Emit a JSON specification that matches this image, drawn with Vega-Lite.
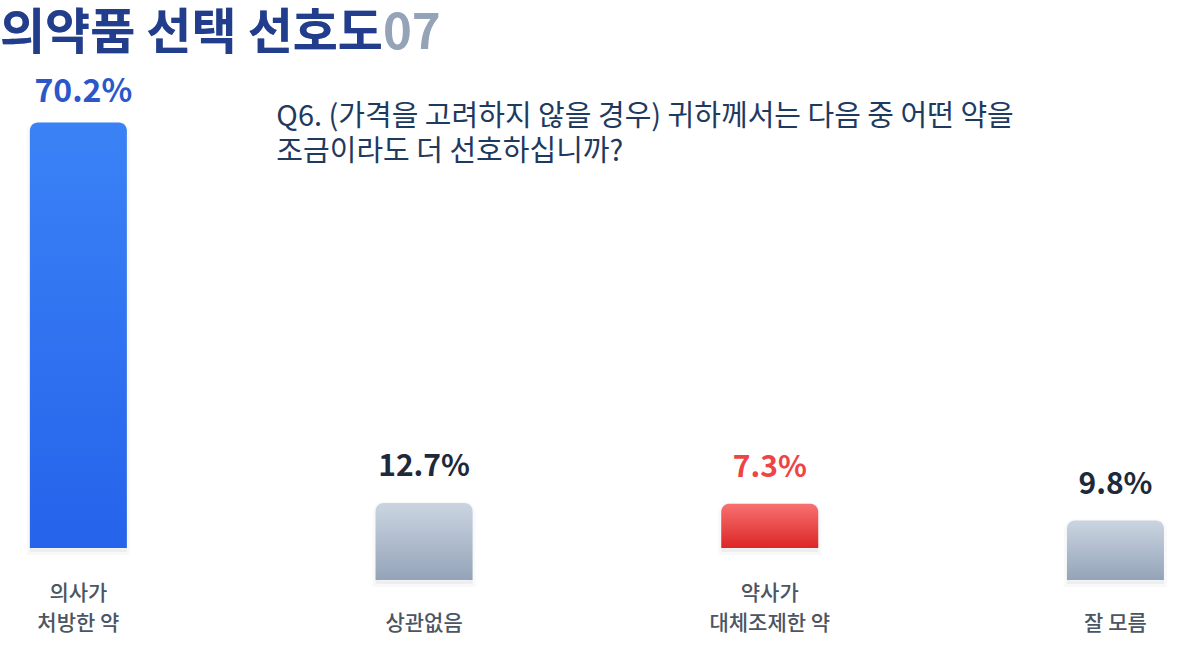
{
  "$schema": "https://vega.github.io/schema/vega-lite/v6.json",
  "width": 1199,
  "height": 510,
  "autosize": {"type": "none"},
  "padding": {"top": 70, "bottom": 78, "left": 0, "right": 0},
  "background": "#ffffff",
  "config": {"view": {"stroke": null}, "font": "Noto Sans CJK KR"},
  "title": {
    "text": "의약품 선택 선호도07",
    "subtitle": "의약품 선택 선호도",
    "anchor": "start",
    "frame": "group",
    "font": "Noto Sans CJK KR",
    "subtitleFont": "Noto Sans CJK KR",
    "fontSize": 49,
    "subtitleFontSize": 49,
    "fontWeight": "bold",
    "subtitleFontWeight": "bold",
    "color": "#94a3b8",
    "subtitleColor": "#213d8c",
    "subtitlePadding": -49,
    "offset": 11
  },
  "data": {
    "values": [
      {"category": "의사가 처방한 약", "label": "의사가\n처방한 약", "share": 0.702, "group": "doctor"},
      {"category": "상관없음", "label": "상관없음", "share": 0.127, "group": "neutral"},
      {"category": "약사가 대체조제한 약", "label": "약사가\n대체조제한 약", "share": 0.073, "group": "pharmacist"},
      {"category": "잘 모름", "label": "잘 모름", "share": 0.098, "group": "neutral"}
    ]
  },
  "encoding": {
    "x": {
      "field": "category",
      "type": "nominal",
      "axis": null,
      "scale": {
        "domain": ["의사가 처방한 약", "상관없음", "약사가 대체조제한 약", "잘 모름"],
        "paddingInner": 0.7194,
        "paddingOuter": 0.0939,
        "align": 0.46
      }
    },
    "y": {
      "field": "share",
      "type": "quantitative",
      "axis": null,
      "stack": null,
      "scale": {"domain": [0, 0.8416]}
    }
  },
  "layer": [
    {
      "transform": [{"filter": "datum.group !== 'neutral'"}],
      "mark": {
        "type": "bar",
        "yOffset": -30,
        "y2Offset": -28,
        "cornerRadiusTopLeft": 8,
        "cornerRadiusTopRight": 8,
        "fill": "#334155",
        "fillOpacity": 0.06,
        "stroke": "#334155",
        "strokeOpacity": 0.03,
        "strokeWidth": 6
      },
      "encoding": {"y2": {"datum": 0}}
    },
    {
      "transform": [{"filter": "datum.group === 'neutral'"}],
      "mark": {
        "type": "bar",
        "yOffset": 2,
        "y2Offset": 4,
        "cornerRadiusTopLeft": 8,
        "cornerRadiusTopRight": 8,
        "fill": "#334155",
        "fillOpacity": 0.06,
        "stroke": "#334155",
        "strokeOpacity": 0.03,
        "strokeWidth": 6
      },
      "encoding": {"y2": {"datum": 0}}
    },
    {
      "transform": [{"filter": "datum.group === 'doctor'"}],
      "mark": {
        "type": "bar",
        "yOffset": -32,
        "y2Offset": -32,
        "cornerRadiusTopLeft": 8,
        "cornerRadiusTopRight": 8,
        "color": {"gradient": "linear", "x1": 0, "y1": 0, "x2": 0, "y2": 1,
          "stops": [{"offset": 0, "color": "#3b82f6"}, {"offset": 1, "color": "#2563eb"}]}
      },
      "encoding": {"y2": {"datum": 0}}
    },
    {
      "transform": [{"filter": "datum.group === 'pharmacist'"}],
      "mark": {
        "type": "bar",
        "yOffset": -32,
        "y2Offset": -32,
        "cornerRadiusTopLeft": 8,
        "cornerRadiusTopRight": 8,
        "color": {"gradient": "linear", "x1": 0, "y1": 0, "x2": 0, "y2": 1,
          "stops": [{"offset": 0, "color": "#f87171"}, {"offset": 1, "color": "#dc2626"}]}
      },
      "encoding": {"y2": {"datum": 0}}
    },
    {
      "transform": [{"filter": "datum.group === 'neutral'"}],
      "mark": {
        "type": "bar",
        "cornerRadiusTopLeft": 8,
        "cornerRadiusTopRight": 8,
        "color": {"gradient": "linear", "x1": 0, "y1": 0, "x2": 0, "y2": 1,
          "stops": [{"offset": 0, "color": "#cbd5e1"}, {"offset": 1, "color": "#94a3b8"}]}
      },
      "encoding": {"y2": {"datum": 0}}
    },
    {
      "transform": [{"filter": "datum.group === 'doctor'"}],
      "mark": {"type": "text", "baseline": "bottom", "dx": 5, "dy": -46, "fontSize": 32, "fontWeight": "bold", "color": "#2b57c9"},
      "encoding": {"text": {"field": "share", "type": "quantitative", "format": ".1%"}}
    },
    {
      "transform": [{"filter": "datum.group === 'pharmacist'"}],
      "mark": {"type": "text", "baseline": "bottom", "dy": -53, "fontSize": 30, "fontWeight": "bold", "color": "#ef4444"},
      "encoding": {"text": {"field": "share", "type": "quantitative", "format": ".1%"}}
    },
    {
      "transform": [{"filter": "datum.group === 'neutral'"}],
      "mark": {"type": "text", "baseline": "bottom", "dy": -21, "fontSize": 30, "fontWeight": "bold", "color": "#1e293b"},
      "encoding": {"text": {"field": "share", "type": "quantitative", "format": ".1%"}}
    },
    {
      "transform": [{"filter": "datum.group !== 'neutral'"}],
      "mark": {"type": "text", "baseline": "bottom", "dy": 24, "fontSize": 21, "fontWeight": 500, "color": "#4b5563", "lineBreak": "\n", "lineHeight": 30},
      "encoding": {
        "y": {"datum": 0},
        "text": {"field": "label", "type": "nominal"}
      }
    },
    {
      "transform": [{"filter": "datum.group === 'neutral'"}],
      "mark": {"type": "text", "baseline": "bottom", "dy": 54, "fontSize": 21, "fontWeight": 500, "color": "#4b5563", "lineBreak": "\n", "lineHeight": 30},
      "encoding": {
        "y": {"datum": 0},
        "text": {"field": "label", "type": "nominal"}
      }
    },
    {
      "transform": [{"filter": "datum.group === 'doctor'"}],
      "mark": {
        "type": "text",
        "text": ["Q6. (가격을 고려하지 않을 경우) 귀하께서는 다음 중 어떤 약을", "조금이라도 더 선호하십니까?"],
        "align": "left",
        "baseline": "top",
        "dx": 198,
        "dy": 8,
        "fontSize": 29,
        "fontWeight": 400,
        "color": "#1f3a5f",
        "lineHeight": 35
      },
      "encoding": {
        "y": {"datum": 0.8}
      }
    }
  ]
}
